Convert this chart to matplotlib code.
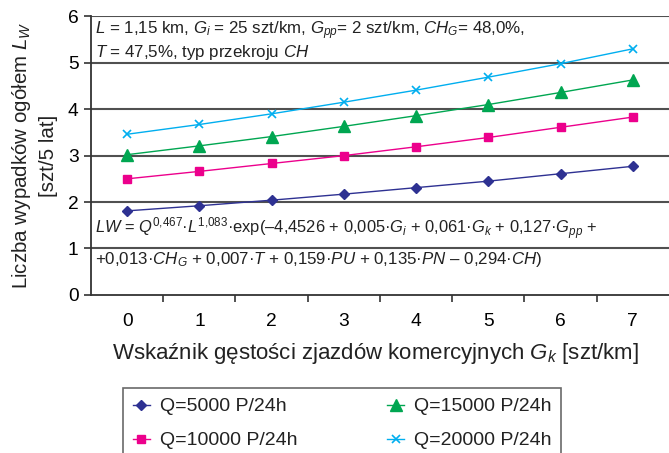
import numpy as np
import matplotlib.pyplot as plt

plt.rcParams['font.family'] = ['Liberation Sans', 'DejaVu Sans']
plt.rcParams['mathtext.fontset'] = 'custom'
plt.rcParams['mathtext.rm'] = 'Liberation Sans'
plt.rcParams['mathtext.it'] = 'Liberation Sans:italic'

# data
gk = [0, 1, 2, 3, 4, 5, 6, 7]
q5000 = [1.81, 1.92, 2.04, 2.17, 2.31, 2.45, 2.61, 2.77]
q10000 = [2.50, 2.66, 2.83, 3.00, 3.19, 3.39, 3.61, 3.83]
q15000 = [3.02, 3.21, 3.41, 3.63, 3.86, 4.10, 4.36, 4.63]
q20000 = [3.46, 3.67, 3.90, 4.15, 4.41, 4.69, 4.98, 5.30]
labels = ["Q=5000 P/24h", "Q=10000 P/24h", "Q=15000 P/24h", "Q=20000 P/24h"]

fig = plt.figure(figsize=(6.69, 4.53), dpi=100)
ax = fig.add_axes([0.136, 0.349, 0.864, 0.615])

gridc = "#505050"
for y in range(1, 7):
    ax.axhline(y, color=gridc, lw=1.5, zorder=1)

h1, = ax.plot(gk, q5000, color="#2e3192", marker="D", ms=5.5, lw=1, zorder=3)
h2, = ax.plot(gk, q10000, color="#ec008c", marker="s", ms=6, lw=1, zorder=3)
h3, = ax.plot(gk, q15000, color="#00a651", marker="^", ms=8, lw=1, zorder=3)
h4, = ax.plot(gk, q20000, color="#00aeef", marker="x", ms=6, mew=1.2, lw=1, zorder=3)

ax.set_xlim(-0.5, 7.5)
ax.set_ylim(0, 6)
ax.set_yticks(range(0, 7))
ax.set_xticks(gk)
ax.set_xticks(np.arange(0.5, 7.5, 1), minor=True)
ax.tick_params(axis="x", which="major", length=0, pad=13, labelsize=13.8)
ax.tick_params(axis="x", which="minor", length=5, width=1.2, color="#333333")
ax.tick_params(axis="y", length=5, width=1.2, color="#333333", labelsize=13.8, pad=4)
for s in ["top", "right"]:
    ax.spines[s].set_visible(False)
ax.spines["left"].set_color("#333333")
ax.spines["bottom"].set_color("#333333")
ax.spines["left"].set_linewidth(1.3)
ax.spines["bottom"].set_linewidth(1.3)

ax.set_xlabel(r"Wskaźnik gęstości zjazdów komercyjnych $G_k$ [szt/km]", fontsize=16, color="#222222")
ax.xaxis.set_label_coords((375 - 91) / 578, -(354 - 295) / 278.5)
ax.xaxis.label.set_va("center")
ax.set_ylabel("Liczba wypadków ogółem $L_W$\n[szt/5 lat]", fontsize=14.8, color="#222222", linespacing=1.4)
ax.yaxis.set_label_coords(-(91 - 34) / 578, 0.5)
ax.yaxis.label.set_va("center")

tk = dict(fontsize=12.2, color="#222222", transform=ax.transData, va="center", ha="left")
ax.text(-0.44, 5.68, r"$L$ = 1,15 km, $G_i$ = 25 szt/km, $G_{pp}$= 2 szt/km, $CH_G$= 48,0%,", **tk)
ax.text(-0.44, 5.22, r"$T$ = 47,5%, typ przekroju $CH$", **tk)
tk["fontsize"] = 11.9
ax.text(-0.44, 1.43,
        r"$LW$ = $Q^{0{,}467}$·$L^{1{,}083}$·exp(–4,4526 + 0,005·$G_i$ + 0,061·$G_k$ + 0,127·$G_{pp}$ +", **tk)
tk["fontsize"] = 12.2
ax.text(-0.44, 0.77,
        r"+0,013·$CH_G$ + 0,007·$T$ + 0,159·$PU$ + 0,135·$PN$ – 0,294·$CH$)", **tk)

leg = fig.legend([h1, h2, h3, h4], labels, ncol=2, loc="upper left",
                 bbox_to_anchor=(123 / 669, 1 - 388 / 453), fontsize=14,
                 frameon=True, fancybox=False, edgecolor="#444444",
                 handlelength=0.9, columnspacing=4.6, borderpad=0.5,
                 labelspacing=0.85, handletextpad=0.5, borderaxespad=0)
leg.get_frame().set_linewidth(1.2)
for t in leg.get_texts():
    t.set_color("#222222")

fig.savefig("out.png", dpi=100)
